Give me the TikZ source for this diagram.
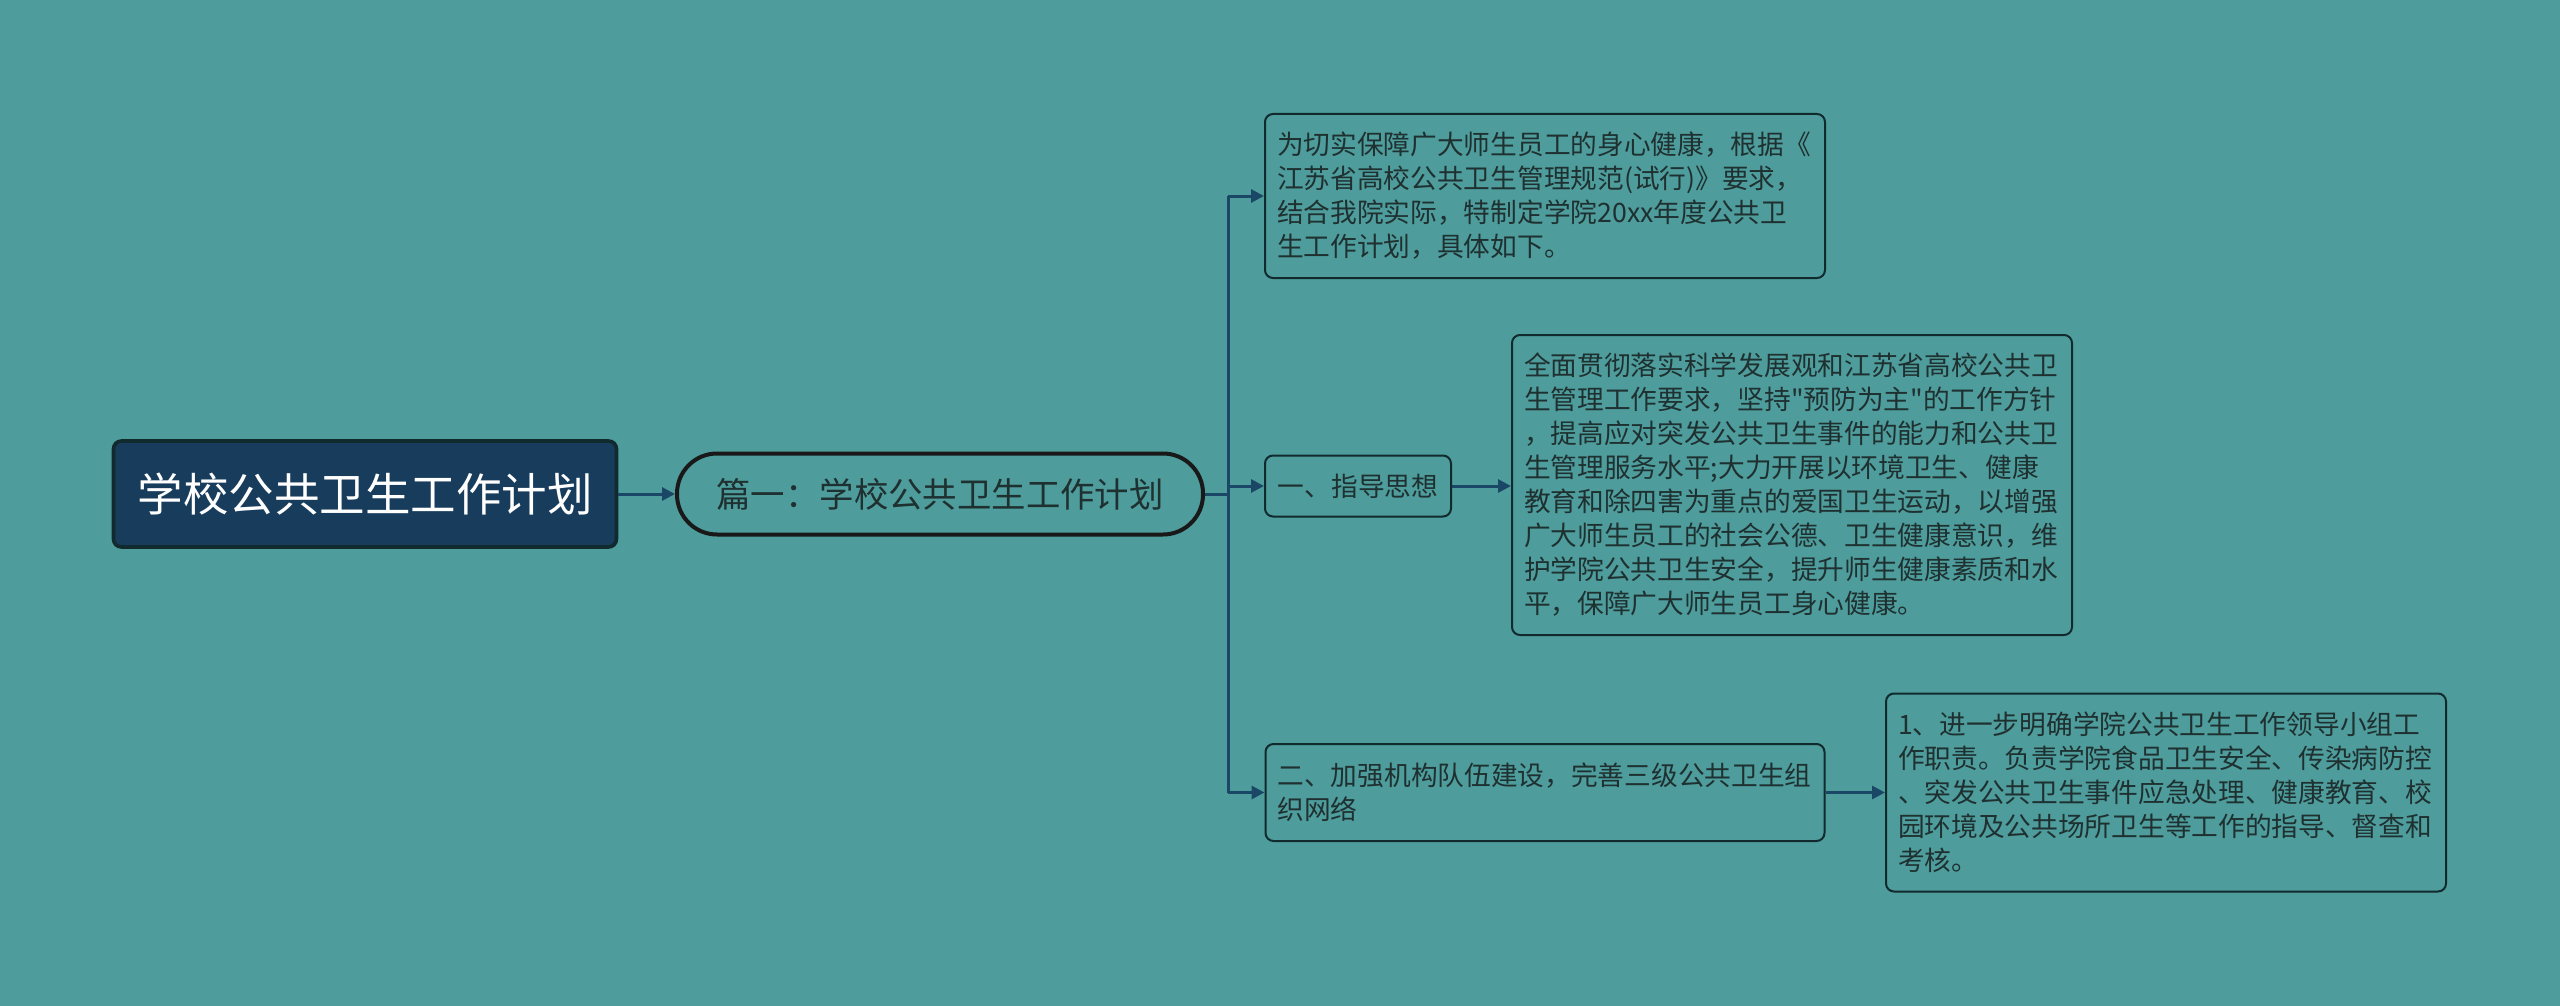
\documentclass[tikz,border=0pt]{standalone}
\usepackage{fontspec}
\setmainfont{Noto Sans CJK SC}[Ligatures=TeXOff]
\usetikzlibrary{arrows.meta}
\definecolor{bg}{HTML}{4E9C9C}
\definecolor{rootfill}{HTML}{183C5C}
\definecolor{edgecol}{HTML}{1A4766}
\definecolor{txt}{HTML}{1F3030}
\definecolor{bord}{HTML}{112A2E}
\begin{document}
\begin{tikzpicture}[x=0.5pt,y=-0.5pt,
  leaf/.style={draw=bord, line width=1pt, rounded corners=4pt, text=txt, align=left,
    anchor=center, inner xsep=6pt, inner ysep=0pt, font=\fontsize{13.35}{17}\selectfont},
  rootbox/.style={draw=bord, fill=rootfill, line width=1.8pt, rounded corners=4pt, text=white,
    minimum width=251.5pt, minimum height=53pt, inner sep=0pt, font=\fontsize{22.75}{26}\selectfont},
  pianbox/.style={draw=black!90, line width=2pt, rounded corners=20pt, text=txt,
    minimum width=263pt, minimum height=40.5pt, inner sep=0pt, font=\fontsize{17.2}{20}\selectfont},
  link/.style={draw=edgecol, line width=1.5pt},
  arr/.style={link, -{Triangle[length=6.5pt,width=6.5pt]}}]
\fill[bg] (0,0) rectangle (2560,1006);
\useasboundingbox (0,0) rectangle (2560,1006);

\node[rootbox] (root) at (365,494) {学校公共卫生工作计划};
\node[pianbox] (pian) at (940,494) {篇一：学校公共卫生工作计划};

\node[leaf, text width=268pt, minimum height=82pt] (c1) at (1545,196)
  {为切实保障广大师生员工的身心健康，根据《\\江苏省高校公共卫生管理规范(试行)》要求，\\结合我院实际，特制定学院20xx年度公共卫\\生工作计划，具体如下。};
\node[leaf, minimum width=93pt, minimum height=30.5pt] (c2) at (1358,486) {一、指导思想};
\node[leaf, text width=268pt, minimum height=150pt] (c2b) at (1792,485)
  {全面贯彻落实科学发展观和江苏省高校公共卫\\生管理工作要求，坚持"预防为主"的工作方针\\，提高应对突发公共卫生事件的能力和公共卫\\生管理服务水平;大力开展以环境卫生、健康\\教育和除四害为重点的爱国卫生运动，以增强\\广大师生员工的社会公德、卫生健康意识，维\\护学院公共卫生安全，提升师生健康素质和水\\平，保障广大师生员工身心健康。};
\node[leaf, text width=267.5pt, minimum height=48.5pt] (c3) at (1545,792.5)
  {二、加强机构队伍建设，完善三级公共卫生组\\织网络};
\node[leaf, text width=268pt, minimum height=99pt] (c3b) at (2166,792.5)
  {1、进一步明确学院公共卫生工作领导小组工\\作职责。负责学院食品卫生安全、传染病防控\\、突发公共卫生事件应急处理、健康教育、校\\园环境及公共场所卫生等工作的指导、督查和\\考核。};

\draw[arr] (root.east) -- (pian.west);
\draw[link] (pian.east) -- ++(23,0) coordinate (trunk);
\draw[link] (trunk |- c1.west) -- (trunk |- c3.west);
\draw[arr] (trunk |- c1.west) -- (c1.west);
\draw[arr] (trunk |- c2.west) -- (c2.west);
\draw[arr] (trunk |- c3.west) -- (c3.west);
\draw[arr] (c2.east) -- (c2b.west |- c2.east);
\draw[arr] (c3.east) -- (c3b.west);
\end{tikzpicture}
\end{document}
